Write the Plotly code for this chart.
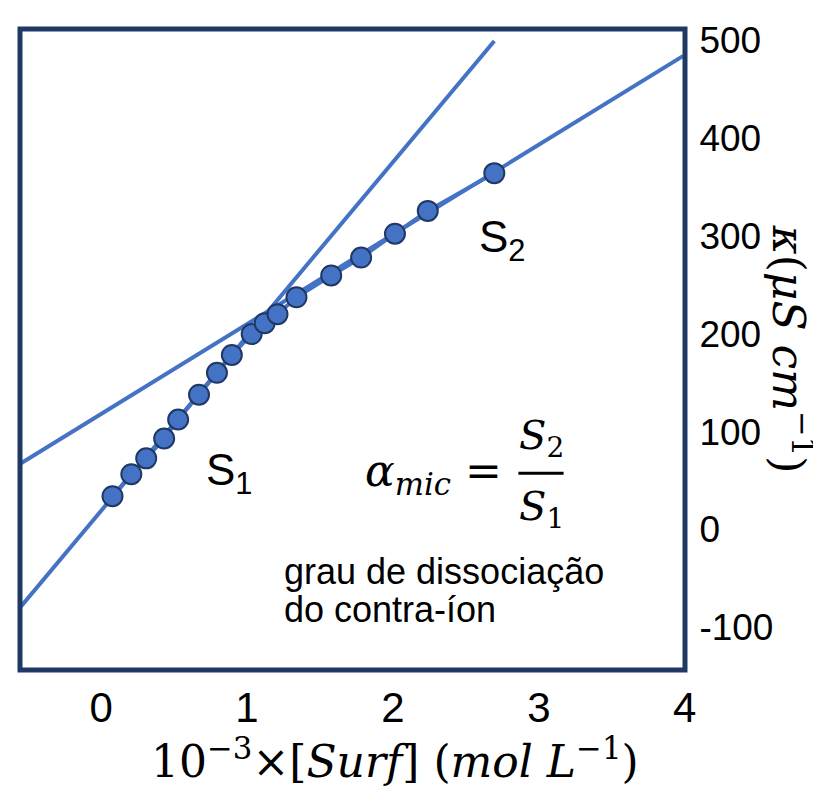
import plotly.graph_objects as go

# Data
conc = [0.078, 0.207, 0.309, 0.432, 0.528, 0.671, 0.794, 0.896, 1.032, 1.121,
        1.209, 1.339, 1.577, 1.782, 2.014, 2.239, 2.695]
kappa = [34, 56.5, 72.7, 93, 112.4, 137.8, 160.1, 178.4, 199.7, 210.9,
         220.0, 237.3, 259.6, 277.9, 302.3, 325.6, 364.2]

fit1_x = [-0.549, 2.695]
fit1_y = [-78.7, 499.3]
fit2_x = [-0.549, 3.99]
fit2_y = [67.7, 484.0]

x_ticks = [0, 1, 2, 3, 4]
y_ticks = [-100, 0, 100, 200, 300, 400, 500]

BLUE = "#4472C4"
NAVY = "#1F3864"
SANS = "Liberation Sans, Arial, sans-serif"
SERIF = "DejaVu Serif, Cambria, serif"

fig = go.Figure()
fig.add_trace(go.Scatter(x=fit1_x, y=fit1_y, mode="lines",
                         line=dict(color=BLUE, width=4), showlegend=False))
fig.add_trace(go.Scatter(x=fit2_x, y=fit2_y, mode="lines",
                         line=dict(color=BLUE, width=4), showlegend=False))
fig.add_trace(go.Scatter(x=conc, y=kappa, mode="lines+markers",
                         line=dict(color=BLUE, width=4),
                         marker=dict(size=20, color=BLUE, line=dict(color=NAVY, width=2)),
                         showlegend=False))

# the page body has an 8px margin, so the figure is shifted by 8px
fig.update_layout(
    width=813, height=778,
    margin=dict(l=12, r=136, t=17, b=116),
    plot_bgcolor="white", paper_bgcolor="white",
    xaxis=dict(range=[-0.556, 4.002], tickvals=x_ticks, ticktext=[str(v) for v in x_ticks],
               showgrid=False, zeroline=False, showline=False,
               ticks="outside", ticklen=1, tickcolor="rgba(0,0,0,0)",
               tickfont=dict(family="Liberation Sans Narrow, Arial Narrow, " + SANS, size=42, color="black")),
    yaxis=dict(range=[-143.6, 511.5], tickvals=y_ticks, ticktext=[str(v) for v in y_ticks],
               side="right", showgrid=False, zeroline=False, showline=False,
               ticks="outside", ticklen=6, tickcolor="rgba(0,0,0,0)",
               tickfont=dict(family=SANS, size=37, color="black")),
    shapes=[
        dict(type="rect", xref="paper", yref="paper", x0=0, x1=1, y0=0, y1=1,
             line=dict(color="#203864", width=5), layer="above"),
        dict(type="line", xref="x", yref="y", x0=2.86, x1=3.17, y0=57.5, y1=57.5,
             line=dict(color="black", width=3)),
    ],
    annotations=[
        dict(x=2.750, y=296.0, xref="x", yref="y", text="S<sub>2</sub>", showarrow=False,
             font=dict(family=SANS, size=44, color="black")),
        dict(x=0.882, y=57.5, xref="x", yref="y", text="S<sub>1</sub>", showarrow=False,
             font=dict(family=SANS, size=44, color="black")),
        dict(x=2.762, y=57.5, xref="x", yref="y", xanchor="right",
             text="<i>α</i><sub><i>mic</i></sub> =", showarrow=False,
             font=dict(family=SERIF, size=44, color="black")),
        dict(x=3.015, y=93, xref="x", yref="y", text="<i>S</i><sub>2</sub>", showarrow=False,
             font=dict(family=SERIF, size=40, color="black")),
        dict(x=3.015, y=21, xref="x", yref="y", text="<i>S</i><sub>1</sub>", showarrow=False,
             font=dict(family=SERIF, size=40, color="black")),
        dict(x=1.237, y=-42.5, xref="x", yref="y", xanchor="left", text="grau de dissociação",
             showarrow=False, font=dict(family=SANS, size=36, color="black")),
        dict(x=1.237, y=-81.5, xref="x", yref="y", xanchor="left", text="do contra-íon",
             showarrow=False, font=dict(family=SANS, size=36, color="black")),
    ],
)

# x-axis title (centred where the reference puts it)
fig.add_annotation(x=0.564, y=-0.138, xref="paper", yref="paper", xanchor="center", yanchor="middle",
                   text="10<sup>−3</sup>×[<i>Surf</i>] (<i>mol L</i><sup>−1</sup>)", showarrow=False,
                   font=dict(family=SERIF, size=44, color="black"))

# y-axis title, rotated to read top-to-bottom as in the reference
fig.add_annotation(x=1.161, y=0.501, xref="paper", yref="paper", xanchor="center", yanchor="middle",
                   text="<i>κ</i>(<i>μS cm</i><sup>−1</sup>)", textangle=90, showarrow=False,
                   font=dict(family=SERIF, size=44, color="black"))

fig.write_html("out.html")
